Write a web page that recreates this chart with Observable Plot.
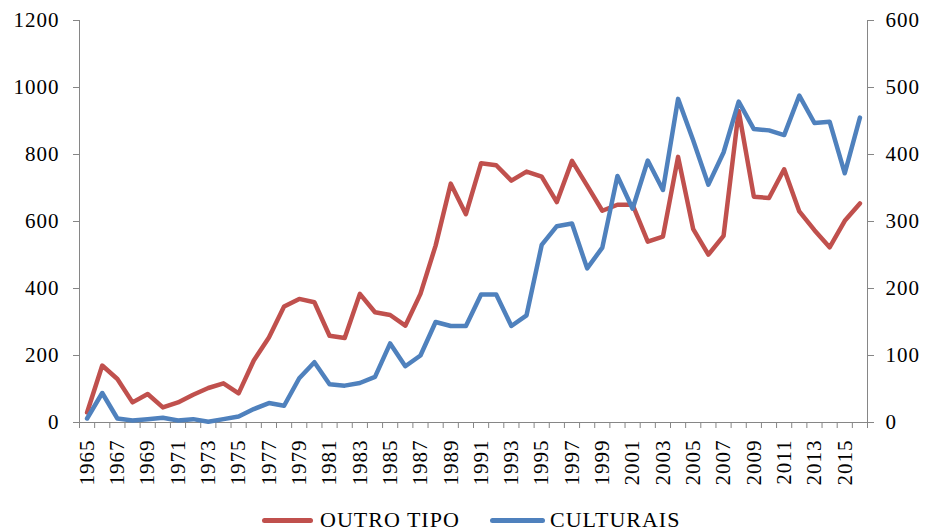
<!DOCTYPE html>
<html>
<head>
<meta charset="utf-8">
<script src="https://cdn.jsdelivr.net/npm/d3@7"></script>
<script src="https://cdn.jsdelivr.net/npm/@observablehq/plot@0.6"></script>
<style>
  html, body { margin: 0; padding: 0; background: #fff; }
  #chart { position: relative; width: 925px; height: 531px; overflow: hidden; font-family: "Liberation Serif", "Times New Roman", serif; }
  #chart svg { letter-spacing: 1px; }
  .lg { position: absolute; top: 509px; height: 22px; font-size: 22px; line-height: 22px; letter-spacing: 1px; color: #000; white-space: nowrap; }
  .sw { position: absolute; top: 518px; height: 5px; border-radius: 3px; }
</style>
</head>
<body>
<div id="chart"></div>
<script>
const years = d3.range(1965, 2017);
const outroTipo = [30,170,130,60,85,45,60,83,103,117,
                   87,185,254,346,369,359,259,252,384,329,
                   321,289,384,528,713,622,774,768,722,749,
                   734,658,781,707,632,650,650,540,555,793,
                   577,501,557,930,674,670,756,630,574,523,
                   602,654];
const culturais = [6,44,6,3,5,7,3,5,1,5,
                   9,20,29,25,66,90,57,55,59,68,
                   118,84,100,150,144,144,191,191,144,160,
                   265,293,297,230,261,368,319,391,347,483,
                   421,355,403,479,438,436,429,488,447,449,
                   372,455];
const leftTicks = [0,200,400,600,800,1000,1200];
const rightTicks = [0,100,200,300,400,500,600];
const yearLabels = years.filter(y => y % 2 === 1);
const seriesNames = ["OUTRO TIPO", "CULTURAIS"];
const seriesColors = ["#C0504D", "#4F81BD"];

const data = years.map((y, i) => ({year: y, outro: outroTipo[i], cult: culturais[i]}));
const boundaries = d3.range(years[0] - 0.5, years[years.length - 1] + 1, 1);
const ratio = 1200 / 600;

const axisGray = "#868686";

const plot = Plot.plot({
  width: 925,
  height: 495,
  marginLeft: 79,
  marginRight: 58,
  marginTop: 20,
  marginBottom: 73,
  style: {fontFamily: "Liberation Serif, Times New Roman, serif", fontSize: "21px", color: "#000", background: "#fff"},
  x: {domain: [years[0] - 0.5, years[years.length - 1] + 0.5]},
  y: {domain: [0, 1200]},
  marks: [
    Plot.axisY({anchor: "left", ticks: leftTicks, tickSize: 6, tickPadding: 14, stroke: axisGray, label: null, tickFormat: d => String(d)}),
    Plot.axisY({anchor: "right", ticks: rightTicks.map(v => v * ratio), tickSize: 6, tickPadding: 12, stroke: axisGray, label: null, tickFormat: d => String(d / ratio)}),
    Plot.axisX({ticks: boundaries, tickSize: 6, stroke: axisGray, tickFormat: () => "", label: null}),
    Plot.axisX({ticks: yearLabels, tickSize: 0, tickPadding: 17, tickRotate: -90, tickFormat: d => String(d), label: null}),
    Plot.ruleX([years[0] - 0.5, years[years.length - 1] + 0.5], {stroke: axisGray, strokeWidth: 1}),
    Plot.ruleY([0], {stroke: axisGray, strokeWidth: 1}),
    Plot.line(data, {x: "year", y: "outro", stroke: seriesColors[0], strokeWidth: 4.5}),
    Plot.line(data, {x: "year", y: d => d.cult * ratio, stroke: seriesColors[1], strokeWidth: 4.5})
  ]
});
const chart = document.getElementById("chart");
chart.appendChild(plot);

const legendItems = [
  {name: seriesNames[0], color: seriesColors[0], swX: 262, swW: 51, textX: 320},
  {name: seriesNames[1], color: seriesColors[1], swX: 490, swW: 55, textX: 550}
];
for (const it of legendItems) {
  const sw = document.createElement("div");
  sw.className = "sw";
  sw.style.left = it.swX + "px";
  sw.style.width = it.swW + "px";
  sw.style.background = it.color;
  chart.appendChild(sw);
  const t = document.createElement("div");
  t.className = "lg";
  t.style.left = it.textX + "px";
  t.textContent = it.name;
  chart.appendChild(t);
}
</script>
</body>
</html>
